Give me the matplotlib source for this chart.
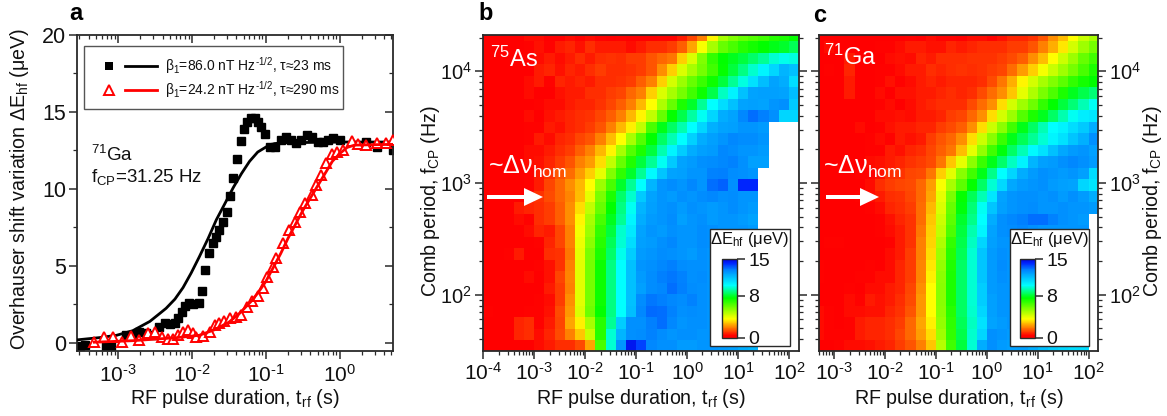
import numpy as np
import matplotlib
matplotlib.use("Agg")
import matplotlib.pyplot as plt
from matplotlib.colors import LinearSegmentedColormap
from matplotlib.patches import Rectangle, FancyArrow
from matplotlib.ticker import LogLocator, NullFormatter, MultipleLocator, FuncFormatter

plt.rcParams['font.family'] = ['Liberation Sans', 'DejaVu Sans']
plt.rcParams['mathtext.fontset'] = 'custom'
plt.rcParams['mathtext.rm'] = 'Liberation Sans'
plt.rcParams['mathtext.it'] = 'Liberation Sans'
plt.rcParams['mathtext.default'] = 'regular'

N = float('nan')

# ---------- panel a data ----------
black_log_t = [-3.52,-3.45,-3.16,-3.09,-2.89,-2.80,-2.71,-2.62,-2.53,-2.44,-2.37,-2.30,-2.23,-2.19,-2.14,-2.10,-2.04,-1.98,-1.90,-1.87,-1.82,-1.77,-1.72,-1.68,-1.63,-1.58,-1.53,-1.49,-1.44,-1.39,-1.34,-1.30,-1.25,-1.20,-1.15,-1.10,-1.06,-1.01,-0.94,-0.87,-0.80,-0.73,-0.66,-0.59,-0.52,-0.44,-0.37,-0.30,-0.23,-0.16,-0.09,0.0,0.36,0.50,0.72]
black_e = [-0.17,-0.13,-0.17,-0.17,0.52,0.52,0.74,0.63,0.52,1.06,1.28,1.23,1.32,1.6,2.03,2.4,2.58,2.53,2.58,3.38,4.74,5.87,6.47,6.86,7.34,7.84,8.53,9.55,10.74,11.95,13.1,13.87,14.37,14.59,14.59,14.37,14.0,13.55,12.75,12.75,13.18,13.35,13.18,13.0,13.18,13.48,13.35,13.07,13.07,13.18,13.29,13.18,13.07,12.7,12.5]
red_log_t = [-3.32,-3.19,-3.07,-2.95,-2.83,-2.72,-2.60,-2.50,-2.41,-2.32,-2.26,-2.19,-2.12,-2.06,-1.99,-1.94,-1.85,-1.76,-1.69,-1.63,-1.57,-1.49,-1.41,-1.33,-1.26,-1.19,-1.11,-1.04,-0.98,-0.91,-0.86,-0.77,-0.69,-0.61,-0.54,-0.47,-0.38,-0.32,-0.25,-0.18,-0.11,-0.04,0.04,0.17,0.25,0.35,0.50,0.62,0.72]
red_e = [0.09,0.37,0.37,0.09,0.45,0.19,0.63,0.69,0.37,0.24,0.24,0.52,0.69,0.84,0.63,0.41,0.45,0.74,1.17,1.32,1.45,1.6,1.71,1.82,2.36,2.75,3.05,3.59,4.26,4.96,5.5,6.47,7.34,7.88,8.53,9.07,9.61,10.26,10.91,11.67,12.27,12.42,12.53,13.14,12.92,12.86,13.0,13.0,13.18]
black_fit_log_t = [-3.56,-3.25,-3.02,-2.80,-2.57,-2.44,-2.35,-2.23,-2.12,-2.01,-1.90,-1.78,-1.67,-1.56,-1.44,-1.33,-1.22,-1.11,-0.99,-0.88,-0.77,0.0,0.72]
black_fit_e = [0.2,0.35,0.5,0.8,1.4,1.9,2.25,2.85,3.6,4.55,5.6,6.8,8.0,9.0,10.1,11.0,11.8,12.4,12.75,12.95,13.0,13.05,13.05]
red_fit_log_t = [-3.32,-2.8,-2.2,-1.9,-1.7,-1.5,-1.35,-1.2,-1.1,-1.0,-0.9,-0.8,-0.7,-0.6,-0.5,-0.4,-0.3,-0.2,-0.1,0.0,0.1,0.2,0.72]
red_fit_e = [0.05,0.15,0.35,0.5,0.85,1.35,1.95,2.7,3.3,4.0,4.9,5.8,6.8,7.7,8.6,9.4,10.2,11.0,11.8,12.3,12.7,12.85,12.9]

# ---------- heat-map axes (log10 of pulse duration and comb frequency) ----------
b_log_t_edges = [-4.0 + 0.2 * k for k in range(32)]
c_log_t_edges = [-3.4 + 0.2 * k for k in range(29)]
log_f_edges = [1.496] + list(np.linspace(1.594, 4.271, 27)) + [4.325]

# ---------- panel b, 75As, top row first ----------
b_values = [
[0.2,0.2,0.3,0.4,0.6,0.6,0.3,0.4,0.6,0.5,0.6,0.5,0.4,0.5,0.4,0.3,0.4,0.5,0.5,0.8,1.3,2.0,3.5,5.0,5.6,6.0,6.3,6.6,7.0,7.2,7.5],
[0.2,0.2,0.3,0.4,0.5,0.7,0.5,0.8,0.9,0.7,1.0,0.8,0.8,0.8,0.6,0.8,1.0,1.0,1.2,1.6,2.5,3.7,5.0,6.0,6.5,7.0,7.3,7.6,7.8,8.0,8.4],
[0.2,0.2,0.2,0.3,0.5,0.6,0.8,0.6,0.8,1.0,0.8,1.0,1.1,1.0,1.2,1.2,1.5,1.7,1.9,3.0,4.2,5.6,6.8,7.6,7.9,8.2,8.6,9.0,9.6,9.8,9.7],
[0.2,0.2,0.3,0.4,0.4,0.8,0.9,0.7,0.9,0.8,1.0,1.2,1.0,1.0,1.1,1.2,1.5,2.2,3.0,4.2,5.0,5.8,6.6,7.5,8.2,8.8,9.5,10.2,11.0,11.8,11.5],
[0.2,0.2,0.2,0.3,0.6,0.8,0.5,0.9,0.8,0.9,0.8,1.0,1.0,1.1,1.2,1.6,2.0,3.0,4.3,5.2,6.0,6.7,7.4,8.2,9.0,9.7,10.7,11.6,12.2,12.0,10.8],
[0.2,0.2,0.2,0.4,0.6,0.4,0.3,0.7,0.8,0.8,1.0,1.0,1.2,1.3,1.7,2.0,3.0,4.2,5.0,5.8,6.6,7.4,8.3,9.4,10.3,11.5,12.2,12.3,12.3,12.2,11.6],
[0.2,0.2,0.3,0.3,0.3,0.5,0.6,0.6,0.8,0.9,0.9,1.1,1.3,1.6,2.0,2.7,3.6,4.9,6.0,7.2,8.0,9.0,10.0,10.8,11.5,12.2,12.3,12.2,12.5,12.6,11.3],
[0.2,0.2,0.3,0.3,0.6,0.4,0.7,0.8,0.9,1.0,1.1,1.3,1.6,2.0,2.7,3.5,4.6,6.0,7.5,8.3,9.1,9.9,11.0,12.0,12.2,12.8,13.2,13.0,12.6,11.0,11.0],
[0.2,0.2,0.2,0.3,0.5,0.5,0.8,0.7,0.9,1.0,1.2,1.5,2.0,2.7,3.4,4.6,6.5,7.8,8.5,9.2,10.0,11.0,11.9,12.2,12.3,12.5,12.5,12.4,N,N,N],
[0.2,0.2,0.2,0.3,0.5,0.8,0.6,0.9,1.0,1.3,1.5,2.0,2.8,3.6,5.0,6.3,7.6,8.5,9.3,10.0,11.1,12.0,12.3,12.5,12.8,12.7,12.7,12.5,N,N,N],
[0.2,0.2,0.3,0.3,0.6,0.6,0.8,1.0,1.2,1.6,2.0,2.7,3.5,5.0,6.3,7.2,8.2,9.2,10.2,11.2,12.0,12.3,12.4,12.8,12.7,12.5,12.5,12.4,N,N,N],
[0.2,0.2,0.2,0.4,0.6,0.7,0.9,1.2,1.5,2.0,2.4,3.2,4.6,6.0,7.1,8.2,9.0,9.9,11.3,12.2,12.4,12.6,12.7,12.8,12.9,12.6,12.3,12.3,N,N,N],
[0.2,0.2,0.3,0.3,0.5,0.8,1.1,1.5,1.8,2.4,3.0,4.0,5.6,6.9,8.0,9.0,10.1,11.4,12.2,12.3,12.5,12.5,12.9,13.0,12.7,12.6,12.5,N,N,N,N],
[0.2,0.2,0.3,0.3,0.5,0.8,1.3,1.7,2.2,2.7,3.6,5.2,6.5,8.0,9.0,10.0,11.8,12.5,12.7,12.5,12.8,12.5,13.2,13.4,12.6,14.2,14.2,N,N,N,N],
[0.2,0.2,0.3,0.4,0.6,1.1,1.4,1.7,2.1,2.8,4.0,5.7,7.2,8.6,9.5,11.3,12.2,12.5,12.4,12.6,12.5,12.7,12.8,12.6,12.7,12.5,12.5,N,N,N,N],
[0.2,0.3,0.4,0.8,0.9,1.0,1.2,1.6,2.2,3.2,4.6,6.0,7.6,8.8,9.9,11.8,12.3,12.5,12.6,12.4,12.6,12.5,12.4,12.5,12.7,12.5,12.4,N,N,N,N],
[0.2,0.2,0.4,0.6,0.5,1.0,1.2,1.6,2.2,3.5,5.0,6.5,7.9,9.0,10.2,12.0,12.4,12.5,12.7,12.3,12.5,12.6,12.4,12.5,12.5,12.4,12.2,N,N,N,N],
[0.2,0.3,0.4,0.3,0.6,0.9,0.8,1.3,2.0,3.8,5.2,6.8,8.2,9.5,10.5,12.2,12.5,12.4,12.6,12.5,12.5,12.7,12.6,12.5,12.5,12.5,12.4,N,N,N,N],
[0.2,0.2,0.3,0.4,0.3,0.5,0.9,1.3,2.0,3.9,5.4,7.0,8.4,9.6,10.8,12.3,12.4,12.6,12.8,12.5,12.5,12.7,12.6,12.5,12.5,12.5,12.4,N,N,N,N],
[0.2,0.3,0.5,0.8,0.3,0.4,1.0,1.1,1.9,4.0,5.7,7.2,8.6,9.8,11.2,12.4,12.5,12.7,12.6,12.5,12.4,12.6,12.5,12.5,12.5,12.5,12.4,N,N,N,N],
[0.3,0.2,0.2,0.3,0.3,0.5,0.7,1.1,2.0,4.1,5.8,7.4,8.8,10.0,11.5,12.5,12.6,12.8,13.0,12.7,12.6,12.6,12.5,12.5,12.5,12.5,12.4,N,N,N,N],
[0.2,0.2,0.3,0.3,0.6,0.3,0.7,1.3,2.1,4.1,5.8,7.4,8.8,10.0,11.5,12.4,12.7,13.0,13.1,12.9,12.6,12.7,12.5,12.5,12.5,12.5,12.4,N,N,N,N],
[0.2,0.2,0.2,0.3,0.3,0.4,0.8,1.2,2.0,4.1,5.8,7.4,8.8,10.0,11.5,12.3,12.7,12.8,13.2,13.0,12.7,12.6,12.5,12.5,12.5,12.5,12.4,N,N,N,N],
[0.3,0.2,0.2,0.2,0.3,0.5,0.6,1.2,2.2,4.1,5.8,7.4,8.8,10.0,11.5,12.7,13.1,13.0,12.8,12.7,12.9,12.6,12.5,12.5,12.5,12.5,12.4,N,N,N,N],
[0.5,0.3,0.2,0.3,0.5,0.5,0.7,1.4,2.3,4.2,5.9,7.5,8.8,10.0,11.6,12.8,13.3,13.2,12.9,12.6,12.7,12.6,12.5,12.5,12.5,12.5,12.4,N,N,N,N],
[0.2,0.2,0.3,0.9,1.0,0.5,0.8,1.3,2.5,3.4,5.0,7.0,9.0,11.2,12.6,12.6,13.0,13.2,12.8,12.5,12.6,12.6,12.5,12.5,12.5,12.5,12.3,N,N,N,N],
[0.2,0.2,0.3,0.9,1.0,0.6,0.9,1.4,2.0,2.9,4.5,7.0,9.6,11.8,12.6,12.7,12.9,12.7,12.5,12.6,12.6,12.5,12.5,12.5,12.4,12.3,12.2,N,N,N,N],
[0.2,0.2,0.2,0.2,0.3,0.6,0.8,1.0,1.0,1.4,2.5,6.5,9.6,12.5,14.5,13.8,12.8,12.6,12.6,12.4,12.4,12.5,12.5,12.4,12.3,12.0,11.8,N,N,N,N],
]

# ---------- panel c, 71Ga, top row first ----------
c_values = [
[0.2,0.3,0.2,0.2,0.3,0.3,0.3,0.3,0.4,0.5,0.4,0.6,0.5,0.5,0.4,0.6,0.6,0.5,0.7,0.9,0.9,1.1,1.5,2.2,2.8,3.6,4.5,5.0],
[0.3,0.6,0.3,0.3,0.3,0.4,0.5,0.5,0.6,0.8,0.8,0.7,0.7,0.9,0.8,0.9,1.0,1.0,1.0,1.2,1.2,1.5,2.0,2.6,3.3,4.3,5.1,5.8],
[0.2,0.3,0.3,0.8,0.3,0.3,0.4,0.6,0.7,0.6,0.9,0.8,1.0,1.0,1.0,1.1,1.1,1.1,1.2,1.4,1.6,2.2,2.8,3.6,4.4,5.2,6.0,6.6],
[0.2,0.5,0.4,0.9,0.3,0.4,0.5,0.5,0.6,0.8,0.8,1.0,0.9,1.0,1.1,1.0,1.1,1.2,1.3,1.8,2.4,3.0,3.8,4.5,5.1,5.8,6.5,7.2],
[0.2,0.2,0.3,0.8,0.4,0.3,0.5,0.7,0.5,0.6,0.8,0.9,0.8,0.9,0.9,0.9,1.0,1.4,1.9,2.6,3.5,4.3,5.0,5.6,6.2,6.8,7.3,7.6],
[0.2,0.2,0.3,0.8,0.3,0.3,0.6,0.4,0.7,0.7,0.8,0.8,0.9,1.0,0.9,1.0,1.4,1.8,2.2,2.9,4.0,4.9,5.7,6.4,7.2,7.9,8.3,8.7],
[0.2,0.2,0.2,0.4,0.3,0.3,0.5,0.6,0.4,0.6,0.8,0.9,1.0,1.0,1.0,1.4,1.8,2.2,3.2,4.3,5.1,5.9,6.8,7.6,8.2,8.7,9.3,9.9],
[0.2,0.2,0.2,0.3,0.4,0.4,0.6,0.6,0.7,0.6,0.8,0.8,0.9,1.2,1.3,1.7,2.2,3.2,4.3,5.2,6.3,7.2,7.9,8.5,9.2,9.9,10.4,10.6],
[0.2,0.2,0.3,0.3,0.6,0.4,0.5,0.7,0.8,0.8,0.9,0.9,1.2,1.4,1.6,2.2,3.2,4.4,5.4,6.6,7.8,8.5,9.3,10.0,10.3,10.8,11.3,12.0],
[0.2,0.2,0.2,0.4,0.4,0.5,0.6,0.5,0.8,0.7,0.8,1.2,1.5,1.7,2.2,3.2,4.4,5.5,6.7,7.8,8.4,9.0,9.6,10.2,10.7,11.4,11.9,12.6],
[0.2,0.2,0.3,0.3,0.4,0.5,0.5,0.8,0.7,0.9,1.0,1.3,1.6,1.9,2.8,4.0,5.3,6.6,7.7,8.5,9.3,10.1,10.7,11.5,12.1,12.4,12.5,12.3],
[0.2,0.2,0.3,0.3,0.4,0.6,0.7,0.8,0.9,1.1,1.2,1.4,1.9,2.9,4.0,5.4,6.7,7.8,8.6,9.4,10.3,11.8,12.3,12.4,12.6,12.8,12.6,12.4],
[0.2,0.2,0.2,0.3,0.5,0.5,0.7,1.0,1.1,1.3,1.4,1.9,3.0,4.1,5.5,6.6,7.8,8.9,10.0,11.0,12.0,12.4,12.6,12.5,12.4,12.5,12.3,10.8],
[0.2,0.2,0.3,0.4,0.4,0.6,1.0,1.2,1.3,1.4,1.7,2.4,3.7,5.0,6.2,7.5,8.5,9.6,10.9,12.1,12.4,12.5,12.6,12.4,12.3,12.2,11.0,10.6],
[0.2,0.2,0.2,0.3,0.5,0.6,0.8,1.0,1.1,1.3,1.7,2.5,4.0,5.7,7.5,8.4,9.3,10.6,12.2,12.5,12.6,12.6,12.5,12.6,12.4,12.6,12.4,12.0],
[0.2,0.2,0.2,0.3,0.4,0.5,0.6,0.9,1.0,1.2,1.8,2.7,4.2,6.0,7.7,8.7,9.9,11.4,12.3,12.5,12.6,12.7,12.5,12.5,12.6,12.5,12.5,12.4],
[0.2,0.2,0.2,0.2,0.3,0.4,0.5,0.7,0.9,1.1,1.8,2.9,4.4,6.2,8.0,8.9,10.0,12.0,12.6,12.8,13.0,13.2,13.2,12.9,12.6,12.5,12.4,N],
[0.2,0.2,0.3,0.2,0.3,0.4,0.5,0.6,0.8,1.1,1.9,3.0,4.6,6.4,8.2,9.2,10.2,12.2,12.6,12.7,12.8,12.6,12.5,12.5,12.5,12.5,12.5,N],
[0.2,0.5,0.5,0.2,0.3,0.3,0.4,0.5,0.8,1.1,2.0,3.1,4.9,6.8,8.3,9.4,11.0,12.3,12.5,12.5,12.5,12.5,12.5,12.5,12.5,12.5,12.5,N],
[0.3,0.3,0.2,0.3,0.3,0.3,0.4,0.6,0.8,1.2,2.0,3.2,5.1,7.0,8.4,9.6,11.4,12.4,12.6,12.5,12.5,12.5,12.5,12.5,12.5,12.5,12.5,N],
[0.5,0.4,0.3,0.3,0.3,0.5,0.4,0.6,0.9,1.2,2.1,3.3,5.3,7.1,8.5,9.6,11.4,12.4,12.7,12.5,12.5,12.5,12.5,12.5,12.5,12.5,12.5,N],
[0.5,0.4,0.3,0.2,0.5,0.5,0.6,0.6,0.9,1.2,2.1,3.4,5.4,7.2,8.5,9.6,11.4,12.4,12.6,12.5,12.5,12.5,12.5,12.5,12.5,12.5,12.5,N],
[0.4,0.3,0.3,0.5,0.4,0.6,0.6,0.8,0.9,1.3,2.2,3.6,5.5,7.2,8.5,9.6,11.2,12.4,12.5,12.5,12.5,12.5,12.5,12.5,12.5,12.5,12.5,N],
[0.4,0.3,0.3,0.6,0.5,0.8,0.7,0.8,1.0,1.4,2.3,3.6,5.5,7.2,8.5,9.6,11.2,12.3,12.5,12.5,12.5,12.5,12.5,12.5,12.5,12.5,12.5,N],
[0.6,0.5,0.3,0.6,0.6,0.7,0.7,0.9,1.1,1.5,2.3,3.6,5.4,7.0,8.5,9.5,11.0,12.3,12.5,12.5,12.5,12.5,12.5,12.5,12.5,12.5,12.5,N],
[0.6,0.5,0.4,0.5,0.8,0.9,0.9,1.0,1.2,1.7,2.5,3.4,5.3,6.9,8.4,9.4,10.7,12.2,12.4,12.5,12.5,12.5,12.5,12.5,12.5,12.5,12.5,N],
[0.6,0.5,0.5,0.5,0.8,0.9,0.9,1.0,1.3,1.7,2.4,3.2,5.1,6.8,8.3,9.5,11.0,12.6,12.5,12.4,12.5,12.5,12.5,12.5,12.5,12.5,12.5,N],
[0.3,0.4,0.5,0.6,0.6,0.7,0.8,0.9,1.2,1.5,2.0,2.9,4.8,6.6,8.2,9.6,12.0,12.6,12.4,12.3,12.3,12.0,11.6,11.2,11.0,10.8,10.8,N],
]

a_xticks = [1e-3, 1e-2, 1e-1, 1e0]
b_xticks = [1e-4, 1e-3, 1e-2, 1e-1, 1e0, 1e1, 1e2]
c_xticks = [1e-3, 1e-2, 1e-1, 1e0, 1e1, 1e2]
bc_yticks = [1e2, 1e3, 1e4]
cbar_ticks = [0, 8, 15]

# ---------- figure helpers ----------
W, H = 1167, 416
fig = plt.figure(figsize=(W / 100, H / 100), dpi=100, facecolor='white')
DARK = '#2a2a2a'

def px_axes(x0, y0, x1, y1, **kw):
    return fig.add_axes([x0 / W, 1 - y1 / H, (x1 - x0) / W, (y1 - y0) / H], **kw)

def ftext(x, y, s, **kw):
    kw.setdefault('ha', 'center')
    kw.setdefault('va', 'center')
    kw.setdefault('fontsize', 14.1)
    kw.setdefault('color', '#111111')
    fig.text(x / W, 1 - y / H, s, **kw)

def log_label(v, pos=None):
    e = int(round(np.log10(v)))
    if e < 0:
        return r'$10^{\text{-}%d}$' % (-e)
    return r'$10^{%d}$' % e

cmap = LinearSegmentedColormap.from_list('rb', [
    (0.0, (1, 0, 0)), (0.03, (1, 0, 0)), (2.0 / 15, (1, 0.5, 0)), (3.6 / 15, (1, 1, 0)),
    (7.6 / 15, (0, 1, 0)), (10.0 / 15, (0, 1, 1)), (12.0 / 15, (0, 0.68, 1)),
    (13.0 / 15, (0, 0.5, 1)), (14.2 / 15, (0, 0.15, 1)), (1.0, (0, 0, 0.85))])

def minor_log():
    return LogLocator(base=10, subs=np.arange(2, 10), numticks=30)

def style_spines(ax):
    for s in ax.spines.values():
        s.set_linewidth(1.3)
        s.set_color(DARK)
    ax.tick_params(which='both', colors=DARK, labelcolor='#111111')

# ---------- panel a ----------
axa = px_axes(77, 35, 393, 351)
axa.set_xscale('log')
axa.plot(10 ** np.array(black_log_t), black_e, ls='none', marker='s', ms=5.8, color='black', zorder=2)
axa.plot(10 ** np.array(black_fit_log_t), black_fit_e, color='black', lw=2.0, zorder=3)
axa.plot(10 ** np.array(red_log_t), red_e, ls='none', marker='^', ms=6.8, mfc='white', mec='#ff0000', mew=1.4, zorder=4)
axa.plot(10 ** np.array(red_fit_log_t), red_fit_e, color='#ff0000', lw=2.0, zorder=5)
axa.set_xticks(a_xticks)
axa.set_xlim(10 ** -3.555, 10 ** 0.72)
axa.set_ylim(-0.52, 20)
axa.xaxis.set_major_formatter(FuncFormatter(log_label))
axa.xaxis.set_minor_locator(minor_log())
axa.xaxis.set_minor_formatter(NullFormatter())
axa.yaxis.set_major_locator(MultipleLocator(5))
axa.yaxis.set_minor_locator(MultipleLocator(2.5))
axa.tick_params(axis='x', which='major', top=True, bottom=True, direction='out', length=6, width=1.1, labelsize=15, pad=3)
axa.tick_params(axis='x', which='minor', top=True, bottom=True, direction='out', length=3, width=0.9)
axa.tick_params(axis='y', which='major', left=True, right=True, direction='out', length=6, width=1.1, labelsize=15.5, pad=2)
axa.tick_params(axis='y', which='minor', left=True, right=True, direction='out', length=3, width=0.9)
fig.canvas.draw()
for t in axa.xaxis.get_ticklines(minor=False)[1::2] + axa.xaxis.get_ticklines(minor=True)[1::2]:
    t.set_marker(3)
for t in axa.yaxis.get_ticklines(minor=False)[1::2] + axa.yaxis.get_ticklines(minor=True)[1::2]:
    t.set_marker(0)
style_spines(axa)

# legend of panel a
fig.add_artist(Rectangle((84 / W, 1 - 109 / H), 259 / W, 63 / H, transform=fig.transFigure,
                         fc='white', ec='#555555', lw=1.0, zorder=6))
for yy, col, mk, mfc, lab in [(66, 'black', 's', 'black', r'$\beta_1$=86.0 nT Hz$^{\text{-}1/2}$, $\tau$≈23 ms'),
                              (90, '#ff0000', '^', 'white', r'$\beta_1$=24.2 nT Hz$^{\text{-}1/2}$, $\tau$≈290 ms')]:
    fig.add_artist(plt.Line2D([109 / W], [1 - yy / H], marker=mk, ms=5.8 if mk == 's' else 6.8, mfc=mfc, mec=col,
                              mew=1.4 if mk == '^' else 0, ls='none', zorder=7, transform=fig.transFigure))
    fig.add_artist(plt.Line2D([125 / W, 157 / W], [1 - yy / H] * 2, color=col, lw=2.0, zorder=7, transform=fig.transFigure))
    ftext(165, yy, lab, ha='left', fontsize=10, zorder=7)

ftext(91, 155, r'$^{71}$Ga', ha='left', fontsize=13.5)
ftext(91, 177, r'f$_{CP}$=31.25 Hz', ha='left', fontsize=13.5)
ftext(76, 14, 'a', fontsize=17, fontweight='bold', color='black')
ftext(235, 398, r'RF pulse duration, t$_{rf}$ (s)')
ftext(20, 189, r'Overhauser shift variation $\Delta$E$_{hf}$ ($\mu$eV)', rotation=90)

# ---------- panels b and c ----------
def heat(x0, x1, t_edges, values, xlim, xticks):
    ax = px_axes(x0, 35, x1, 351)
    ax.set_xscale('log')
    ax.set_yscale('log')
    arr = np.array(values, dtype=float)[::-1]
    m = ax.pcolormesh(10 ** np.array(t_edges), 10 ** np.array(log_f_edges), np.ma.masked_invalid(arr),
                      cmap=cmap, vmin=0, vmax=15, shading='flat', linewidth=0, rasterized=True)
    ax.set_xticks(xticks)
    ax.set_yticks(bc_yticks)
    ax.set_xlim(*xlim)
    ax.set_ylim(10 ** 1.496, 10 ** 4.325)
    ax.xaxis.set_major_formatter(FuncFormatter(log_label))
    ax.yaxis.set_major_formatter(FuncFormatter(log_label))
    ax.xaxis.set_minor_locator(minor_log())
    ax.yaxis.set_minor_locator(minor_log())
    ax.xaxis.set_minor_formatter(NullFormatter())
    ax.yaxis.set_minor_formatter(NullFormatter())
    ax.tick_params(axis='x', which='major', direction='out', length=6, width=1.1, labelsize=15, pad=2)
    ax.tick_params(axis='y', which='major', direction='out', length=6, width=1.1, labelsize=14.5, pad=2)
    ax.tick_params(axis='both', which='minor', direction='out', length=3, width=0.9)
    ax.tick_params(axis='y', which='both', left=True, right=True)
    style_spines(ax)
    ax.set_axisbelow(False)
    return ax, m

axb, mb = heat(483.3, 799.3, b_log_t_edges, b_values, (1e-4, 10 ** 2.202), b_xticks)
axc, mc = heat(818.7, 1098.3, c_log_t_edges, c_values, (10 ** -3.306, 10 ** 2.19), c_xticks)
axc.tick_params(axis='y', which='both', labelleft=False, labelright=True)

ftext(486, 14, 'b', fontsize=17, fontweight='bold', color='black')
ftext(820, 16, 'c', fontsize=17, fontweight='bold', color='black')
ftext(641, 399, r'RF pulse duration, t$_{rf}$ (s)')
ftext(959, 399, r'RF pulse duration, t$_{rf}$ (s)')
ftext(431, 201, r'Comb period, f$_{CP}$ (Hz)', rotation=90)
ftext(1153, 201, r'Comb period, f$_{CP}$ (Hz)', rotation=90)

ftext(490, 59, r'$^{75}$As', ha='left', fontsize=17, color='white', zorder=8)
ftext(824, 57, r'$^{71}$Ga', ha='left', fontsize=17, color='white', zorder=8)
ftext(488, 167, r'~$\Delta\nu_{hom}$', ha='left', fontsize=18, color='white', zorder=8)
ftext(823, 167, r'~$\Delta\nu_{hom}$', ha='left', fontsize=18, color='white', zorder=8)
for x_a, x_b in [(487, 543), (826, 879)]:
    fig.add_artist(FancyArrow(x_a / W, 1 - 197 / H, (x_b - x_a) / W, 0, width=4 / H, head_width=18 / H,
                              head_length=19 / W, length_includes_head=True, fc='white', ec='none',
                              transform=fig.transFigure, zorder=8))

# colour-bar insets
for bx0, bx1, cx0, cx1, mesh in [(710, 790, 722, 737, mb), (1010, 1089, 1020, 1035, mc)]:
    fig.add_artist(Rectangle((bx0 / W, 1 - 346 / H), (bx1 - bx0) / W, 117 / H, transform=fig.transFigure,
                             fc='white', ec=DARK, lw=1.0, zorder=6))
    cax = px_axes(cx0, 259, cx1, 338, zorder=7)
    cb = fig.colorbar(mesh, cax=cax, ticks=cbar_ticks)
    cb.ax.tick_params(length=6, width=1.1, labelsize=14, pad=2, colors=DARK, labelcolor='#111111')
    cb.outline.set_linewidth(1.0)
    cb.outline.set_edgecolor(DARK)
    ftext((bx0 + bx1) / 2, 240, r'$\Delta$E$_{hf}$ ($\mu$eV)', fontsize=12, zorder=8)

fig.savefig('out.png', dpi=100)
